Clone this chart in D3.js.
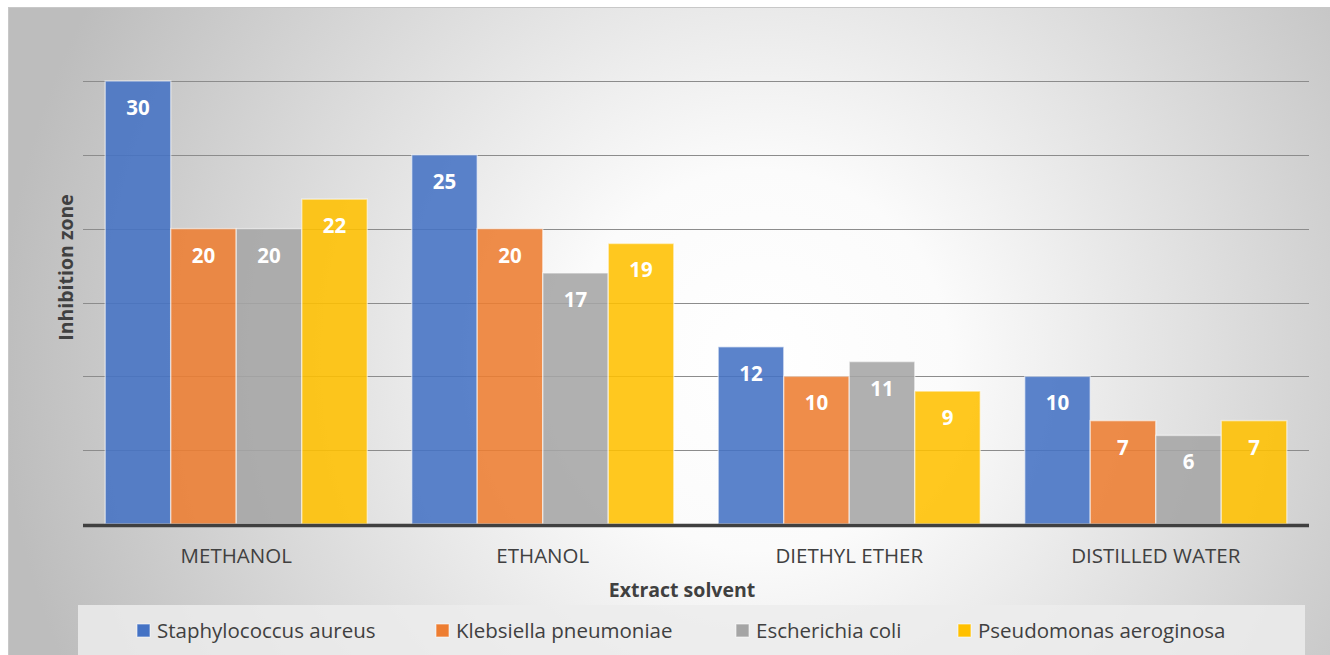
<!DOCTYPE html>
<html>
<head>
<meta charset="utf-8">
<script src="https://cdn.jsdelivr.net/npm/d3@7"></script>
<style>
  html, body { margin: 0; padding: 0; background: #fff; }
  svg { display: block; }
  text { font-family: "Open Sans", "Noto Sans", sans-serif; }
</style>
</head>
<body>
<div id="chart"></div>
<script>
const solvents = ['METHANOL', 'ETHANOL', 'DIETHYL ETHER', 'DISTILLED WATER'];
const seriesNames = ['Staphylococcus aureus', 'Klebsiella pneumoniae', 'Escherichia coli', 'Pseudomonas aeroginosa'];
const staphValues = [30, 25, 12, 10];
const klebValues = [20, 20, 10, 7];
const ecoliValues = [20, 17, 11, 6];
const pseudoValues = [22, 19, 9, 7];
const yTicks = [0, 5, 10, 15, 20, 25, 30];
const colours = ['#4472c4', '#ed7d31', '#a5a5a5', '#ffc000'];

const allValues = [staphValues, klebValues, ecoliValues, pseudoValues];

const w = 1330;
const h = 655;
const margin = { top: 81, right: 21, bottom: 131, left: 83 };

const svg = d3.select('#chart')
  .append('svg')
  .attr('width', w)
  .attr('height', h);

// background gradient like the office chart style
const defs = svg.append('defs');
const grad = defs.append('radialGradient')
  .attr('id', 'bgGrad')
  .attr('gradientUnits', 'userSpaceOnUse')
  .attr('cx', 760).attr('cy', 360)
  .attr('r', 760);
grad.append('stop').attr('offset', '0%').attr('stop-color', '#ffffff');
grad.append('stop').attr('offset', '25%').attr('stop-color', '#fbfbfb');
grad.append('stop').attr('offset', '100%').attr('stop-color', '#bdbdbd');

svg.append('rect')
  .attr('x', 8.5).attr('y', 7.5)
  .attr('width', w + 10).attr('height', h + 10)
  .attr('fill', 'url(#bgGrad)')
  .attr('stroke', '#c8c8c8')
  .attr('stroke-width', 1);

const x0 = d3.scaleBand()
  .domain(solvents)
  .range([margin.left, w - margin.right])
  .paddingInner(0.145)
  .paddingOuter(0.0725);

const x1 = d3.scaleBand()
  .domain(seriesNames)
  .range([0, x0.bandwidth()]);

const y = d3.scaleLinear()
  .domain([0, 30])
  .range([h - margin.bottom, margin.top]);

// gridlines
svg.append('g')
  .selectAll('line')
  .data(yTicks.filter((d) => d > 0))
  .enter()
  .append('line')
  .attr('x1', margin.left)
  .attr('x2', w - margin.right)
  .attr('y1', (d) => Math.round(y(d)) + 0.5)
  .attr('y2', (d) => Math.round(y(d)) + 0.5)
  .attr('stroke', '#8c8c8c')
  .attr('stroke-width', 1.2);

// bars
const groups = svg.append('g')
  .selectAll('g')
  .data(solvents)
  .enter()
  .append('g')
  .attr('transform', (d) => `translate(${x0(d)},0)`);

const barData = (d, i) => seriesNames.map((s, j) => ({ series: s, idx: j, value: allValues[j][i] }));

groups.selectAll('rect')
  .data(barData)
  .enter()
  .append('rect')
  .attr('x', (d) => x1(d.series))
  .attr('y', (d) => y(d.value))
  .attr('width', x1.bandwidth())
  .attr('height', (d) => y(0) - y(d.value))
  .attr('fill', (d) => colours[d.idx])
  .attr('fill-opacity', 0.88)
  .attr('stroke', '#ffffff')
  .attr('stroke-opacity', 0.5)
  .attr('stroke-width', 1.5);

groups.selectAll('text')
  .data(barData)
  .enter()
  .append('text')
  .attr('x', (d) => x1(d.series) + x1.bandwidth() / 2)
  .attr('y', (d) => y(d.value) + 34)
  .attr('text-anchor', 'middle')
  .attr('fill', '#ffffff')
  .attr('font-size', 20.5)
  .attr('font-weight', 'bold')
  .text((d) => d.value);

// x axis baseline
svg.append('line')
  .attr('x1', margin.left)
  .attr('x2', w - margin.right)
  .attr('y1', y(0) + 1.5)
  .attr('y2', y(0) + 1.5)
  .attr('stroke', '#404040')
  .attr('stroke-width', 3.5);

const xAxis = svg.append('g')
  .attr('transform', `translate(0,${y(0)})`)
  .call(d3.axisBottom(x0).tickSize(0).tickPadding(0));
xAxis.select('.domain').remove();
xAxis.selectAll('text')
  .attr('dy', 39)
  .attr('fill', '#404040')
  .attr('font-size', 20.5)
  .style('font-family', '"Open Sans", sans-serif');

// axis titles
svg.append('text')
  .attr('x', 682)
  .attr('y', 597)
  .attr('text-anchor', 'middle')
  .attr('fill', '#404040')
  .attr('font-size', 19.5)
  .attr('font-weight', 'bold')
  .text('Extract solvent');

svg.append('text')
  .attr('transform', `translate(73,${(margin.top + y(0)) / 2 - 35}) rotate(-90)`)
  .attr('text-anchor', 'middle')
  .attr('fill', '#404040')
  .attr('font-size', 19.5)
  .attr('font-weight', 'bold')
  .text('Inhibition zone');

// legend
svg.append('rect')
  .attr('x', 78).attr('y', 605)
  .attr('width', 1227).attr('height', 60)
  .attr('fill', '#ececec')
  .attr('fill-opacity', 0.85);

const legendX = [137, 436, 736, 958];
const legend = svg.append('g')
  .selectAll('g')
  .data(seriesNames)
  .enter()
  .append('g')
  .attr('transform', (d, i) => `translate(${legendX[i]},624)`);

legend.append('rect')
  .attr('width', 13)
  .attr('height', 13)
  .attr('fill', (d, i) => colours[i])
  .attr('stroke', '#ffffff')
  .attr('stroke-opacity', 0.6);

legend.append('text')
  .attr('x', 20)
  .attr('y', 14)
  .attr('fill', '#404040')
  .attr('font-size', 20.5)
  .text((d) => d);
</script>
</body>
</html>
